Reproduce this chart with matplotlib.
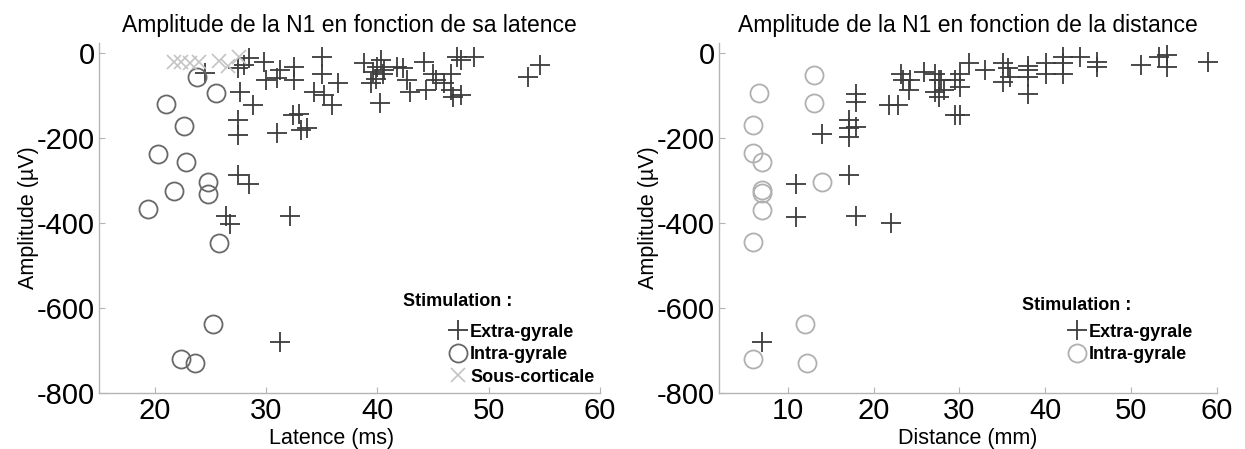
import matplotlib
matplotlib.use("Agg")
import matplotlib.pyplot as plt

# --- data ---
# left panel : amplitude vs latency
lat_extra = [24.5, 27.5, 28.5, 28.0, 27.7, 28.8, 27.5, 27.5, 27.5, 28.5, 26.4, 26.8,
             29.8, 30.0, 31.3, 32.5, 32.5, 35.0, 35.0, 34.3, 35.2, 35.9, 36.5, 32.4,
             33.0, 31.0, 33.1, 33.7, 31.0, 32.2, 31.3,
             38.8, 40.0, 39.4, 40.2, 40.3, 40.6, 39.9, 41.8, 42.3, 42.7, 42.9, 44.2,
             44.4, 45.0, 45.3, 46.0, 46.6, 46.6, 46.8, 47.5, 47.2, 47.5, 48.7, 53.5,
             54.6, 39.6, 40.5]
amp_extra_lat = [-46, -36, -12, -28, -91, -122, -158, -193, -287, -307, -384, -401,
                 -20, -64, -40, -32, -64, -9, -48, -91, -99, -122, -70, -146,
                 -142, -189, -181, -176, -58, -384, -679,
                 -22, -32, -71, -118, -16, -40, -60, -32, -36, -64, -91, -20,
                 -87, -48, -64, -71, -87, -48, -103, -99, -9, -16, -9, -56,
                 -28, -45, -50]

lat_intra = [23.8, 25.5, 21.0, 22.6, 20.3, 22.8, 24.8, 21.7, 24.8, 19.4, 25.8, 25.2, 22.4, 23.6]
amp_intra_lat = [-56, -93, -120, -171, -238, -256, -303, -324, -332, -367, -446, -638, -719, -730]

lat_sous = [21.7, 22.4, 23.2, 24.0, 25.8, 26.6, 27.6]
amp_sous = [-20, -20, -22, -20, -18, -30, -8]

# right panel : amplitude vs distance
dist_extra = [11.0, 11.0, 18.0, 22.0, 17.1, 14.0, 17.1, 17.1, 17.1, 18.0, 18.0, 18.0,
              21.8, 22.8, 23.2, 23.4, 24.3, 24.1, 25.9, 27.1, 27.1, 27.6, 27.6, 29.5,
              29.5, 27.8, 30.1, 30.1, 31.1, 30.1, 28.2, 35.1, 35.1, 35.7, 35.9, 38.0,
              38.0, 38.0, 40.1, 40.1, 42.1, 42.1, 42.1, 44.0, 46.0, 46.0, 51.1, 53.2,
              54.2, 54.2, 59.0, 7.0, 38.0, 33.0]
amp_extra_dist = [-308, -385, -384, -399, -287, -191, -158, -176, -197, -173, -95, -114,
                  -122, -122, -48, -64, -64, -87, -44, -48, -91, -64, -103, -64,
                  -146, -64, -48, -79, -24, -146, -87, -24, -67, -36, -56, -40,
                  -56, -95, -24, -48, -9, -24, -48, -9, -20, -32, -28, -9,
                  -5, -32, -20, -681, -30, -40]

dist_intra = [13.1, 6.7, 13.1, 6.0, 6.0, 7.0, 14.0, 7.0, 7.0, 7.0, 6.0, 12.0, 6.0, 12.2]
amp_intra_dist = [-52, -93, -118, -169, -235, -256, -303, -322, -330, -369, -445, -638, -720, -730]

W, H = 1245, 449
fig = plt.figure(figsize=(W / 100, H / 100), dpi=100)

plt.rcParams["font.family"] = "Liberation Sans"
plt.rcParams["axes.unicode_minus"] = False

spine_col = "#b4b4b4"
plus_col = "#3c3c3c"


def style_axes(ax, xlim, title, xlabel):
    ax.set_xlim(*xlim)
    ax.set_ylim(-800, 24)
    ax.set_yticks([0, -200, -400, -600, -800])
    ax.set_xticks([x for x in range(10, 70, 10) if x > xlim[0]])
    for s in ["top", "right"]:
        ax.spines[s].set_visible(False)
    for s in ["left", "bottom"]:
        ax.spines[s].set_color(spine_col)
        ax.spines[s].set_linewidth(1.0)
    ax.tick_params(direction="in", length=4, color=spine_col, labelsize=21, pad=3)
    ax.set_title(title, fontsize=16.5, pad=8)
    ax.set_xlabel(xlabel, fontsize=15.5, labelpad=-2)
    ax.set_ylabel("Amplitude (µV)", fontsize=15.5, labelpad=-2)


# left panel
ax1 = fig.add_axes([99 / W, 56 / H, 501 / W, 350 / H])
ax1.plot(lat_extra, amp_extra_lat, ls="none", marker="+", ms=14, mew=1.3,
         color=plus_col, label="Extra-gyrale")
ax1.plot(lat_intra, amp_intra_lat, ls="none", marker="o", ms=13, mew=1.3,
         mfc="none", mec="#686868", label="Intra-gyrale")
ax1.plot(lat_sous, amp_sous, ls="none", marker="x", ms=10, mew=1.2,
         color="#c4c4c4", label="Sous-corticale")
style_axes(ax1, (15, 60), "Amplitude de la N1 en fonction de sa latence", "Latence (ms)")
ax1.xaxis.set_label_coords(0.465, -0.10)

# right panel
ax2 = fig.add_axes([719 / W, 56 / H, 498 / W, 350 / H])
ax2.plot(dist_extra, amp_extra_dist, ls="none", marker="+", ms=14, mew=1.3,
         color=plus_col, label="Extra-gyrale")
ax2.plot(dist_intra, amp_intra_dist, ls="none", marker="o", ms=13, mew=1.3,
         mfc="none", mec="#b0b0b0", label="Intra-gyrale")
style_axes(ax2, (2, 60), "Amplitude de la N1 en fonction de la distance", "Distance (mm)")
ax2.xaxis.set_label_coords(0.5, -0.10)

for ax, tx, ty, lx in [(ax1, 0.607, 0.26, 0.699), (ax2, 0.608, 0.251, 0.70)]:
    ax.text(tx, ty, "Stimulation :", transform=ax.transAxes, fontsize=13,
            fontweight="bold", va="center", ha="left")
    ax.legend(loc="upper left", bbox_to_anchor=(lx, 0.198), frameon=False,
              prop={"weight": "bold", "size": 13}, handlelength=1.0,
              handletextpad=0.15, labelspacing=0.3, borderaxespad=0,
              borderpad=0, markerscale=1.0)

fig.savefig("out.png", dpi=100)
